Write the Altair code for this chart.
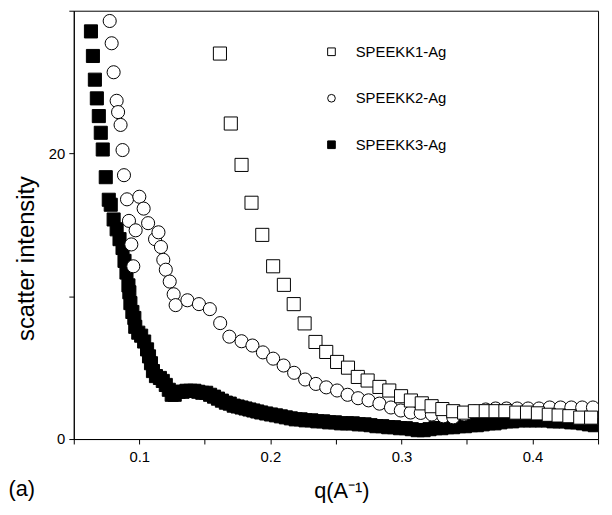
import altair as alt
import pandas as pd

names = ["SPEEKK1-Ag", "SPEEKK2-Ag", "SPEEKK3-Ag"]

# SPEEKK1-Ag (open squares)
q1 = [0.1615, 0.1698, 0.1780, 0.1856, 0.1938, 0.2021, 0.2103, 0.2178, 0.2261, 0.2344,
      0.2426, 0.2509, 0.2592, 0.2667, 0.2742, 0.2832, 0.2907, 0.2997, 0.3072, 0.3155,
      0.3230, 0.3312, 0.3395, 0.3478, 0.3560, 0.3643, 0.3718, 0.3793, 0.3876, 0.3958,
      0.4041, 0.4124, 0.4199, 0.4281, 0.4364, 0.4447]
v1 = [27.0, 22.1, 19.2, 16.55, 14.3, 12.1, 10.8, 9.45, 8.1, 6.8,
      6.1, 5.4, 5.0, 4.35, 4.1, 3.65, 3.4, 3.0, 2.7, 2.5,
      2.3, 2.1, 1.95, 1.85, 1.95, 1.95, 1.95, 1.95, 1.85, 1.85,
      1.8, 1.7, 1.65, 1.6, 1.5, 1.5]

# SPEEKK2-Ag (open circles)
q2 = [0.0774, 0.0789, 0.0804, 0.0827, 0.0838, 0.0857, 0.0872, 0.0883, 0.0906, 0.0921,
      0.0939, 0.0954, 0.0972, 0.1000, 0.1033, 0.1067, 0.1120, 0.1146, 0.1165, 0.1183,
      0.1202, 0.1232, 0.1262, 0.1277, 0.1367, 0.1455, 0.1538, 0.1617, 0.1687, 0.1780,
      0.1863, 0.1943, 0.2021, 0.2101, 0.2181, 0.2265, 0.2347, 0.2426, 0.2509, 0.2589,
      0.2669, 0.2749, 0.2832, 0.2920, 0.2995, 0.3070, 0.3147, 0.3232, 0.3320, 0.3395,
      0.3478, 0.3560, 0.3643, 0.3718, 0.3801, 0.3883, 0.3966, 0.4049, 0.4131, 0.4214,
      0.4296, 0.4379, 0.4461]
v2 = [29.28, 27.72, 25.69, 23.69, 22.90, 22.00, 20.24, 18.48, 16.79, 15.28,
      13.63, 12.10, 14.62, 16.97, 16.14, 15.12, 14.00, 14.48, 13.45, 12.55,
      11.86, 11.03, 10.14, 9.38, 9.72, 9.45, 9.10, 8.12, 7.17, 6.85,
      6.55, 6.07, 5.63, 5.15, 4.64, 4.17, 3.86, 3.62, 3.40, 3.10,
      2.86, 2.71, 2.48, 2.21, 2.00, 1.86, 1.83, 1.72, 1.59, 1.52,
      1.72, 1.93, 2.07, 2.14, 2.14, 2.14, 2.14, 2.14, 2.21, 2.21,
      2.21, 2.21, 2.21]

# SPEEKK3-Ag (filled squares)
q3 = [0.0631, 0.0646, 0.0661, 0.0676, 0.0691, 0.0706, 0.0721, 0.0744, 0.0767, 0.0782,
      0.0804, 0.0827, 0.0849, 0.0872, 0.0887, 0.0902, 0.0917, 0.0924, 0.0932, 0.0947,
      0.0962, 0.0969, 0.0992, 0.1014, 0.1037, 0.1059, 0.1074, 0.1089, 0.1104, 0.1127,
      0.1157, 0.1179, 0.1202, 0.1225, 0.1247, 0.1270, 0.1300, 0.1330, 0.1360, 0.1390,
      0.1420, 0.1450, 0.1480, 0.1510, 0.1540, 0.1570, 0.1600, 0.1630, 0.1660, 0.1690,
      0.1720, 0.1750, 0.1780, 0.1810, 0.1840, 0.1870, 0.1900, 0.1930, 0.1968, 0.2005,
      0.2043, 0.2080, 0.2118, 0.2156, 0.2193, 0.2231, 0.2268, 0.2313, 0.2358, 0.2403,
      0.2448, 0.2493, 0.2538, 0.2584, 0.2629, 0.2674, 0.2719, 0.2764, 0.2809, 0.2854,
      0.2899, 0.2944, 0.2989, 0.3034, 0.3079, 0.3124, 0.3169, 0.3214, 0.3259, 0.3304,
      0.3349, 0.3394, 0.3439, 0.3484, 0.3530, 0.3575, 0.3620, 0.3665, 0.3710, 0.3755,
      0.3800, 0.3845, 0.3890, 0.3935, 0.3980, 0.4025, 0.4070, 0.4115, 0.4160, 0.4205,
      0.4250, 0.4295, 0.4340, 0.4385, 0.4430, 0.4475]
v3 = [28.55, 26.83, 25.17, 23.86, 22.62, 21.45, 20.28, 18.34, 16.76, 16.41,
      15.38, 14.69, 14.00, 13.38, 12.48, 11.66, 10.76, 10.28, 9.52, 8.90,
      8.48, 7.86, 7.45, 7.24, 6.83, 6.28, 5.79, 5.31, 4.76, 4.41,
      4.28, 4.07, 3.79, 3.45, 3.10, 3.10, 3.31, 3.31, 3.38, 3.38,
      3.38, 3.31, 3.24, 3.24, 3.10, 2.97, 2.83, 2.69, 2.55, 2.48,
      2.34, 2.28, 2.21, 2.14, 2.07, 2.00, 1.93, 1.86, 1.79, 1.72,
      1.66, 1.59, 1.52, 1.45, 1.38, 1.38, 1.31, 1.31, 1.24, 1.24,
      1.17, 1.17, 1.10, 1.10, 1.10, 1.03, 1.03, 0.97, 0.90, 0.90,
      0.83, 0.83, 0.76, 0.76, 0.69, 0.62, 0.62, 0.69, 0.76, 0.76,
      0.83, 0.83, 0.90, 0.90, 0.97, 0.97, 1.03, 1.10, 1.10, 1.17,
      1.24, 1.24, 1.31, 1.31, 1.31, 1.31, 1.31, 1.31, 1.24, 1.24,
      1.24, 1.17, 1.17, 1.10, 1.03, 0.97]

x_ticks = [0.05, 0.1, 0.15, 0.2, 0.25, 0.3, 0.35, 0.4, 0.45]
y_ticks = [0, 10, 20, 30]

rows = []
for name, qs, vs in [(names[2], q3, v3), (names[1], q2, v2), (names[0], q1, v1)]:
    for a, b in zip(qs, vs):
        rows.append({"q": a, "I": b, "series": name})
df = pd.DataFrame(rows)

FONT = "Liberation Sans"

legend = alt.Legend(
    title=None, orient="none", legendX=253, legendY=34, padding=0,
    labelFont=FONT, labelFontSize=15, labelColor="black",
    symbolSize=60, symbolStrokeColor="black", symbolStrokeWidth=1,
    rowPadding=31, labelOffset=17,
)

points = alt.Chart(df).mark_point(
    filled=True, size=175, strokeWidth=1, opacity=1, clip=True
).encode(
    x=alt.X("q:Q", scale=alt.Scale(domain=[0.05, 0.45], nice=False, zero=False),
            axis=alt.Axis(values=x_ticks,
                          labelExpr="round(datum.value*100) % 10 == 0 ? format(datum.value, '.1f') : ''",
                          title="q(A⁻¹)", titleFontSize=22, titleX=270.5, titleY=59,
                          titleBaseline="alphabetic", labelPadding=6)),
    y=alt.Y("I:Q", scale=alt.Scale(domain=[0, 30], nice=False, zero=True),
            axis=alt.Axis(values=y_ticks,
                          labelExpr="datum.value % 20 == 0 ? datum.label : ''",
                          title="scatter intensity", titleFontSize=24, titleX=-48, titleY=250,
                          titleBaseline="middle", labelPadding=4)),
    shape=alt.Shape("series:N", scale=alt.Scale(domain=names, range=["square", "circle", "square"]),
                    legend=legend),
    fill=alt.Fill("series:N", scale=alt.Scale(domain=names, range=["white", "white", "black"]),
                  legend=legend),
    stroke=alt.Stroke("series:N", scale=alt.Scale(domain=names, range=["black", "black", "black"]),
                      legend=legend),
)

label_a = alt.Chart(pd.DataFrame({"t": ["(a)"]})).mark_text(
    align="left", baseline="middle", font=FONT, fontSize=22, color="black"
).encode(text="t:N", x=alt.value(-66), y=alt.value(484))

chart = alt.layer(points, label_a).properties(
    width=530, height=433,
    autosize=alt.AutoSizeParams(type="none"),
    padding={"left": 66.5, "top": 0, "right": 6, "bottom": 70},
).configure_view(stroke="black", strokeWidth=1).configure_axis(
    grid=False, domainColor="black", tickColor="black", tickSize=5,
    labelColor="black", titleColor="black", labelFont=FONT, titleFont=FONT,
    labelFontSize=15, titleFontWeight="normal", labelOverlap=False, labelFlush=False,
)

chart.save("out.html", embed_options={"renderer": "svg", "actions": False})
